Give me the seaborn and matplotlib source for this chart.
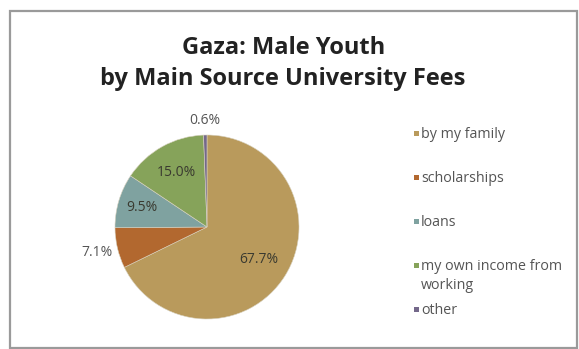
import numpy as np
import matplotlib
matplotlib.use("Agg")
import matplotlib.pyplot as plt
from matplotlib.patches import Rectangle
import seaborn as sns

# Main source of university fees, Gaza male youth (%)
categories = ["by my family", "scholarships", "loans",
              "my own income from\nworking", "other"]
shares = [67.7, 7.1, 9.5, 15.0, 0.6]
slice_colors = ["#b99a5c", "#b2682f", "#7fa2a0", "#86a35a", "#74688a"]
# radial placement of each percentage label (fraction of radius)
label_dist = [0.66, 1.23, 0.74, 0.68, 1.16]

sns.set_theme(style="white")
plt.rcParams["font.family"] = ["Open Sans", "DejaVu Sans"]

W, H, DPI = 579, 349, 100
fig = plt.figure(figsize=(W / DPI, H / DPI), dpi=DPI)
fig.patch.set_facecolor("white")

# outer frame around the chart
fig.add_artist(Rectangle((10 / W, 1.5 / H), 567 / W, (H - 11 - 1.5) / H,
                         transform=fig.transFigure, fill=False,
                         edgecolor="#9a9a9a", linewidth=1.6))

fig.text(284 / W, 1 - 48 / H, "Gaza: Male Youth", ha="center", va="center",
         fontsize=17, fontweight="bold", color="#222222")
fig.text(283 / W, 1 - 79 / H, "by Main Source University Fees", ha="center",
         va="center", fontsize=17, fontweight="bold", color="#222222")

cx, cy, r = 207, H - 227, 92
ax = fig.add_axes([(cx - r) / W, (cy - r) / H, 2 * r / W, 2 * r / H])
wedges, _ = ax.pie(shares, colors=slice_colors, startangle=90,
                   counterclock=False, radius=1.0,
                   wedgeprops=dict(edgecolor="#d8d2c0", linewidth=0.4))
ax.set_xlim(-1, 1)
ax.set_ylim(-1, 1)
ax.set_aspect("equal")
ax.axis("off")

for w, val, d in zip(wedges, shares, label_dist):
    mid = np.deg2rad((w.theta1 + w.theta2) / 2)
    ax.text(d * np.cos(mid), d * np.sin(mid), f"{val:.1f}%",
            ha="center", va="center", fontsize=10,
            color="#3a3a30" if d < 1 else "#555555")

# legend: one row per category, first text line of each row evenly spaced
leg_x, leg_y0, leg_step, sq = 414, 135, 44, 5
for i, (lab, col) in enumerate(zip(categories, slice_colors)):
    y = leg_y0 + i * leg_step
    fig.add_artist(Rectangle((leg_x / W, (H - y - 1) / H), sq / W, sq / H,
                             transform=fig.transFigure, facecolor=col,
                             edgecolor="none"))
    fig.text((leg_x + sq + 2) / W, (H - y + 8) / H, lab, ha="left", va="top",
             fontsize=10.3, color="#555555", linespacing=1.4)

fig.savefig("out.png", dpi=DPI, facecolor="white")
